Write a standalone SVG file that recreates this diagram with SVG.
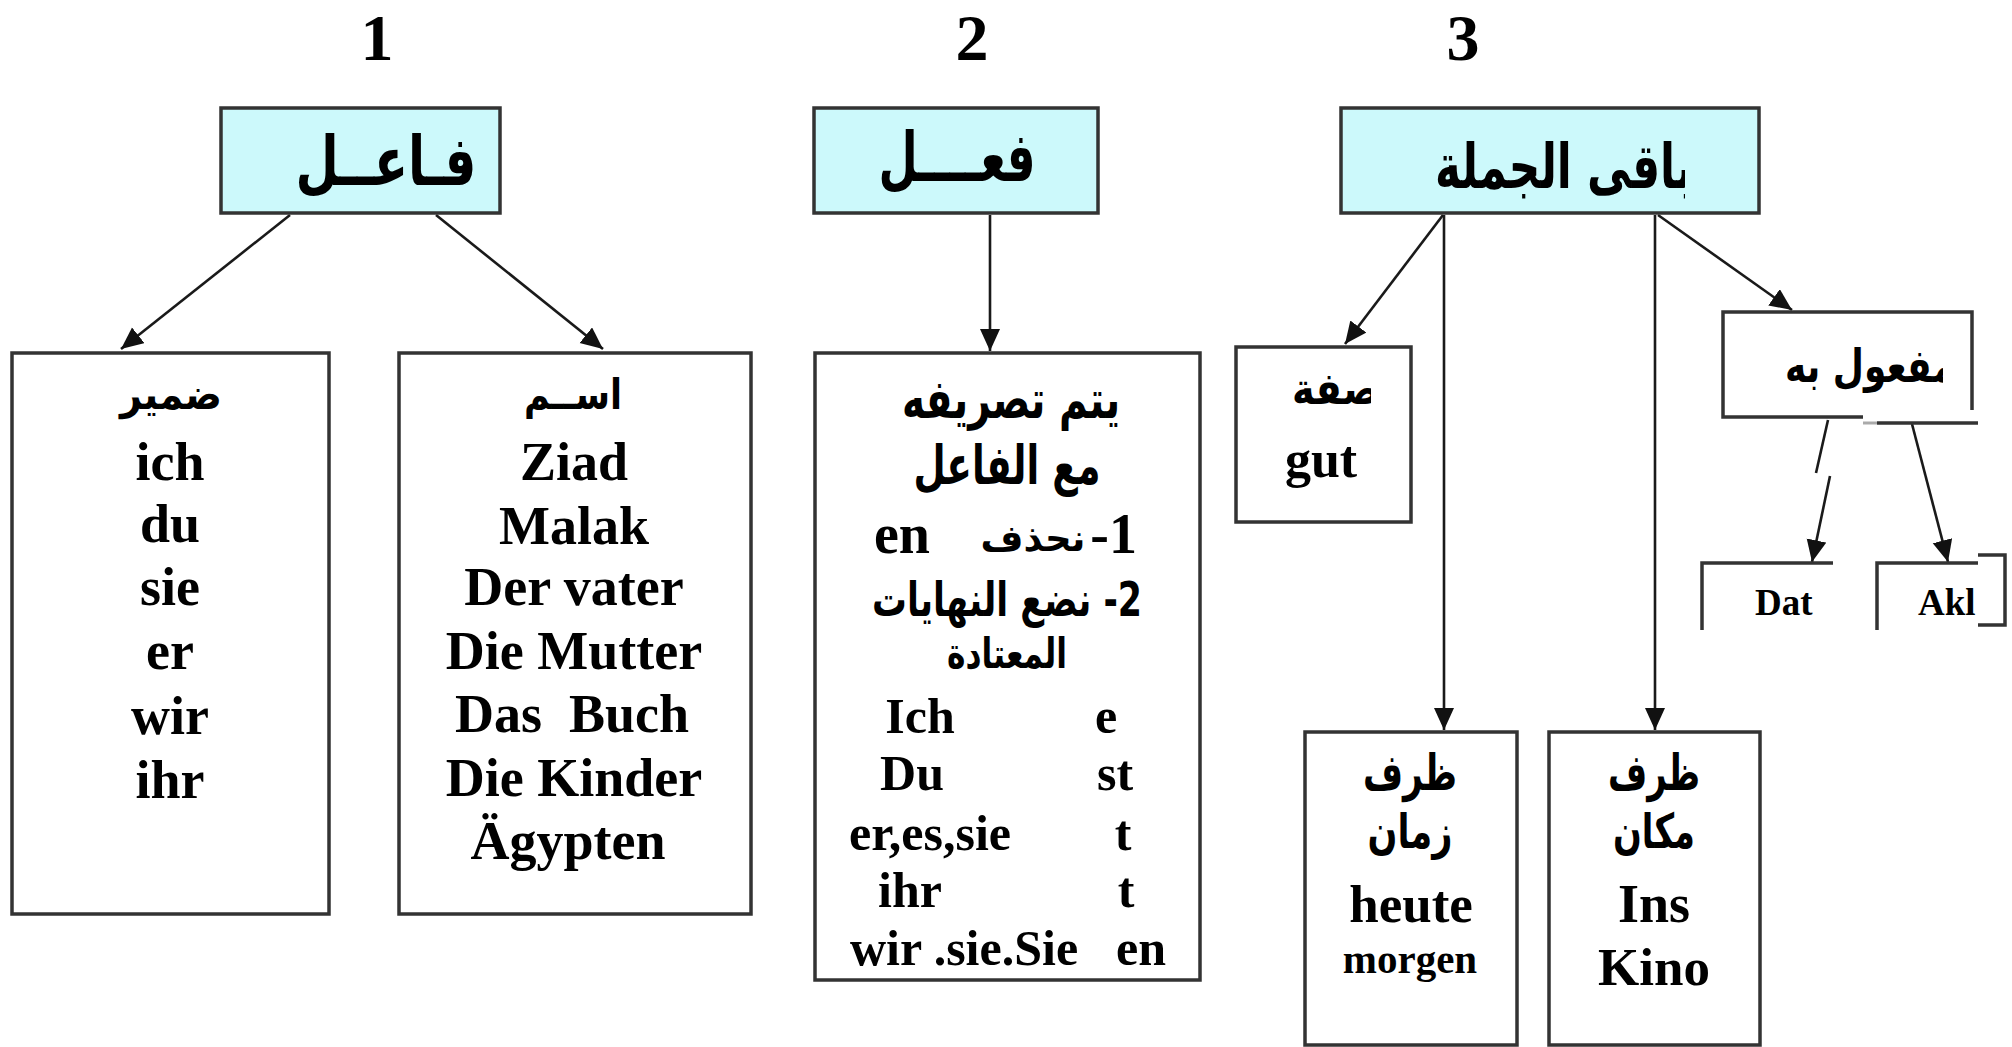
<svg xmlns="http://www.w3.org/2000/svg" width="2012" height="1047" viewBox="0 0 2012 1047">
<style>
.hdr{fill:#CCF9FB;stroke:#333;stroke-width:3.5}
.box{fill:#fff;stroke:#333;stroke-width:3.5}
.edge{fill:none;stroke:#333;stroke-width:3.5}
.con{fill:none;stroke:#1a1a1a;stroke-width:2.6}
.num{font-family:"Liberation Serif","Times New Roman",serif;font-weight:bold;font-size:66px;fill:#000;text-anchor:middle}
.lat{font-family:"Liberation Serif","Times New Roman",serif;font-weight:bold;font-size:54px;fill:#000;text-anchor:middle}
.ar{font-family:"DejaVu Sans",sans-serif;font-weight:bold;fill:#000;text-anchor:middle}
</style>
<defs>
<marker id="ah" markerUnits="userSpaceOnUse" markerWidth="24" markerHeight="22" refX="22" refY="10" orient="auto" viewBox="0 0 24 22">
<path d="M0,0 L22,10 L0,20 z" fill="#111"/>
</marker>
<clipPath id="cBaqi"><rect x="1341" y="108" width="344" height="105"/></clipPath>
<clipPath id="cSifa"><rect x="1236" y="346" width="135" height="176"/></clipPath>
<clipPath id="cMaf"><rect x="1723" y="312" width="220" height="105"/></clipPath>
<clipPath id="cAkl"><rect x="1877" y="563" width="101" height="70"/></clipPath>
</defs>
<rect width="2012" height="1047" fill="#fff"/>

<g id="numbers">
<text class="num" x="377" y="60">1</text>
<text class="num" x="972" y="60">2</text>
<text class="num" x="1463" y="60">3</text>
</g>

<g id="connectors">
<line class="con" x1="290" y1="215" x2="121" y2="349" marker-end="url(#ah)"/>
<line class="con" x1="436" y1="215" x2="603" y2="349" marker-end="url(#ah)"/>
<line class="con" x1="990" y1="215" x2="990" y2="351" marker-end="url(#ah)"/>
<line class="con" x1="1443" y1="215" x2="1345" y2="344" marker-end="url(#ah)"/>
<line class="con" x1="1444" y1="215" x2="1444" y2="730" marker-end="url(#ah)"/>
<line class="con" x1="1655" y1="215" x2="1655" y2="730" marker-end="url(#ah)"/>
<line class="con" x1="1658" y1="215" x2="1792" y2="310" marker-end="url(#ah)"/>
<line class="con" x1="1828" y1="420" x2="1816" y2="473"/>
<line class="con" x1="1830" y1="476" x2="1812" y2="562" marker-end="url(#ah)"/>
<line class="con" x1="1912" y1="424" x2="1948" y2="562" marker-end="url(#ah)"/>
</g>

<g id="node-fail">
<rect class="hdr" x="221" y="108" width="279" height="105"/>
<text class="ar" x="386" y="185" font-size="68" textLength="181" lengthAdjust="spacingAndGlyphs">فـاعــل</text>
</g>

<g id="node-fil">
<rect class="hdr" x="814" y="108" width="284" height="105"/>
<text class="ar" x="957" y="181" font-size="68" textLength="157" lengthAdjust="spacingAndGlyphs">فعــــل</text>
</g>

<g id="node-baqi">
<rect class="hdr" x="1341" y="108" width="418" height="105"/>
<g clip-path="url(#cBaqi)">
<text class="ar" x="1564" y="188" font-size="62" textLength="258" lengthAdjust="spacingAndGlyphs">باقى الجملة</text>
</g>
</g>

<g id="node-damir">
<rect class="box" x="12" y="353" width="317" height="561"/>
<text class="ar" x="171" y="409" font-size="42" textLength="102" lengthAdjust="spacingAndGlyphs">ضمير</text>
<text class="lat" x="170" y="480">ich</text>
<text class="lat" x="170" y="542">du</text>
<text class="lat" x="170" y="605">sie</text>
<text class="lat" x="170" y="669">er</text>
<text class="lat" x="170" y="734">wir</text>
<text class="lat" x="170" y="798">ihr</text>
</g>

<g id="node-ism">
<rect class="box" x="399" y="353" width="352" height="561"/>
<text class="ar" x="573" y="409" font-size="42" textLength="98" lengthAdjust="spacingAndGlyphs">اســم</text>
<text class="lat" x="574" y="480">Ziad</text>
<text class="lat" x="574" y="544">Malak</text>
<text class="lat" x="574" y="605">Der vater</text>
<text class="lat" x="574" y="669">Die Mutter</text>
<text class="lat" x="572" y="732" xml:space="preserve">Das  Buch</text>
<text class="lat" x="574" y="796">Die Kinder</text>
<text class="lat" x="568" y="859">Ägypten</text>
</g>

<g id="node-tasrif">
<rect class="box" x="815" y="353" width="385" height="627"/>
<text class="ar" x="1011" y="418" font-size="54" textLength="218" lengthAdjust="spacingAndGlyphs">يتم تصريفه</text>
<text class="ar" x="1007" y="484" font-size="54" textLength="187" lengthAdjust="spacingAndGlyphs">مع الفاعل</text>
<text class="lat" x="1137" y="553" direction="rtl" style="text-anchor:start;font-size:56px">1-</text>
<text class="ar" x="1033" y="551" font-size="37">نحذف</text>
<text class="lat" x="902" y="553" style="font-size:56px">en</text>
<text class="ar" x="1007" y="616" font-size="48" direction="rtl" textLength="270" lengthAdjust="spacingAndGlyphs">2- نضع النهايات</text>
<text class="ar" x="1007" y="668" font-size="42" textLength="120" lengthAdjust="spacingAndGlyphs">المعتادة</text>
<text class="lat" x="920" y="733" style="font-size:50px">Ich</text>
<text class="lat" x="1106" y="733" style="font-size:50px">e</text>
<text class="lat" x="912" y="790" style="font-size:50px">Du</text>
<text class="lat" x="1115" y="790" style="font-size:50px">st</text>
<text class="lat" x="930" y="850" style="font-size:50px">er,es,sie</text>
<text class="lat" x="1123" y="850" style="font-size:50px">t</text>
<text class="lat" x="910" y="907" style="font-size:50px">ihr</text>
<text class="lat" x="1126" y="907" style="font-size:50px">t</text>
<text class="lat" x="964" y="965" style="font-size:50px" xml:space="preserve">wir .sie.Sie</text>
<text class="lat" x="1141" y="965" style="font-size:50px">en</text>
</g>

<g id="node-sifa">
<rect class="box" x="1236" y="347" width="175" height="175"/>
<g clip-path="url(#cSifa)">
<text class="ar" x="1336" y="404" font-size="44" textLength="88" lengthAdjust="spacingAndGlyphs">صفة</text>
</g>
<text class="lat" x="1321" y="477" style="font-size:52px">gut</text>
</g>

<g id="node-mafool">
<path class="edge" d="M1863,417 L1723,417 L1723,312 L1972,312 L1972,410"/>
<path class="edge" d="M1877,423 L1978,423"/>
<line x1="1863" y1="423" x2="1877" y2="423" stroke="#aaa" stroke-width="3"/>
<g clip-path="url(#cMaf)">
<text class="ar" x="1870" y="382" font-size="46" textLength="170" lengthAdjust="spacingAndGlyphs">مفعول به</text>
</g>
</g>

<g id="node-dat">
<path class="edge" d="M1833,563 L1702,563 L1702,630"/>
<text class="lat" x="1755" y="615" style="text-anchor:start;font-size:37px">Dat</text>
</g>

<g id="node-akk">
<path class="edge" d="M1978,563 L1877,563 L1877,630"/>
<path class="edge" d="M1978,555 L2005,555 L2005,625 L1978,625"/>
<g clip-path="url(#cAkl)">
<text class="lat" x="1918" y="615" style="text-anchor:start;font-size:37px">Akl</text>
</g>
</g>

<g id="node-zaman">
<rect class="box" x="1305" y="732" width="212" height="313"/>
<text class="ar" x="1410" y="790" font-size="50" textLength="94" lengthAdjust="spacingAndGlyphs">ظرف</text>
<text class="ar" x="1410" y="848" font-size="48" textLength="85" lengthAdjust="spacingAndGlyphs">زمان</text>
<text class="lat" x="1411" y="922" style="font-size:53px">heute</text>
<text class="lat" x="1410" y="973" style="font-size:41px">morgen</text>
</g>

<g id="node-makan">
<rect class="box" x="1549" y="732" width="211" height="313"/>
<text class="ar" x="1654" y="790" font-size="50" textLength="92" lengthAdjust="spacingAndGlyphs">ظرف</text>
<text class="ar" x="1654" y="848" font-size="48" textLength="82" lengthAdjust="spacingAndGlyphs">مكان</text>
<text class="lat" x="1654" y="922">Ins</text>
<text class="lat" x="1654" y="985" style="font-size:53px">Kino</text>
</g>
</svg>
